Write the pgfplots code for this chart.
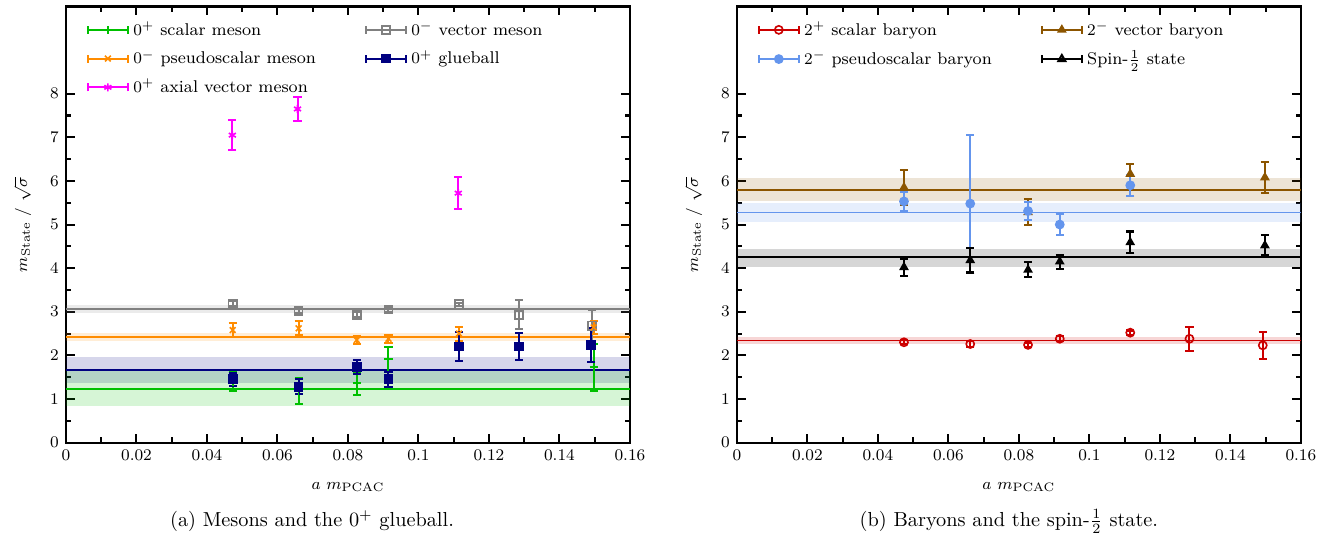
\documentclass[border=0pt]{standalone}
\usepackage{pgfplots}
\usepackage{pgfplotstable}
\pgfplotsset{compat=1.18}

\definecolor{cgreen}{RGB}{0,192,0}
\definecolor{corange}{RGB}{255,140,0}
\definecolor{cmag}{RGB}{255,0,255}
\definecolor{cgray}{RGB}{128,128,128}
\definecolor{cnavy}{RGB}{0,0,128}
\definecolor{cred}{RGB}{204,0,0}
\definecolor{cblue}{RGB}{100,149,237}
\definecolor{cbrown}{RGB}{140,85,0}

% x, y, error
\pgfplotstableread{
x y e
0.0473 1.40 0.21
0.0660 1.18 0.29
0.0825 1.36 0.26
0.0915 1.91 0.29
0.1497 1.73 0.54
}\scalarmeson
\pgfplotstableread{
x y e
0.0473 3.19 0.05
0.0660 3.02 0.04
0.0825 2.93 0.06
0.0915 3.05 0.05
0.1115 3.17 0.04
0.1285 2.93 0.33
0.1492 2.68 0.37
}\vectormeson
\pgfplotstableread{
x y e
0.0473 2.58 0.17
0.0660 2.62 0.16
0.0825 2.35 0.10
0.0915 2.38 0.09
0.1115 2.50 0.16
0.1497 2.64 0.14
}\pseudomeson
\pgfplotstableread{
x y e
0.0473 1.45 0.15
0.0660 1.28 0.17
0.0825 1.73 0.16
0.0915 1.45 0.17
0.1115 2.20 0.33
0.1285 2.20 0.31
0.1490 2.23 0.39
}\glueball
\pgfplotstableread{
x y e
0.0472 7.05 0.35
0.0657 7.65 0.27
0.1113 5.72 0.36
}\axialmeson

\pgfplotstableread{
x y e
0.0474 2.30 0.05
0.0662 2.26 0.06
0.0826 2.24 0.05
0.0916 2.38 0.06
0.1116 2.52 0.05
0.1284 2.38 0.27
0.1492 2.23 0.31
}\scalarbaryon
\pgfplotstableread{
x y e
0.0474 5.85 0.40
0.0826 5.28 0.30
0.1116 6.16 0.22
0.1498 6.08 0.35
}\vectorbaryon
\pgfplotstableread{
x y e
0.0474 5.53 0.22
0.0662 5.48 1.58
0.0826 5.31 0.20
0.0916 5.00 0.25
0.1116 5.90 0.24
}\pseudobaryon
\pgfplotstableread{
x y e
0.0474 4.02 0.19
0.0662 4.18 0.28
0.0826 3.96 0.17
0.0916 4.15 0.16
0.1116 4.59 0.25
0.1498 4.52 0.23
}\spinhalf

\pgfplotsset{
  panel/.style={
    scale only axis, width=277.8pt, height=214.8pt,
    xmin=0, xmax=0.16, ymin=0, ymax=10,
    xtick={0,0.02,0.04,0.06,0.08,0.1,0.12,0.14,0.16},
    minor xtick={0.01,0.03,0.05,0.07,0.09,0.11,0.13,0.15},
    ytick={0,1,2,3,4,5,6,7,8},
    minor ytick={0.5,1.5,2.5,3.5,4.5,5.5,6.5,7.5},
    tick align=inside,
    major tick length=4.4pt, minor tick length=2.5pt,
    axis line style={line width=1pt},
    every tick/.style={line width=1pt, black},
    tick label style={font=\footnotesize},
    scaled x ticks=false,
    xticklabel style={/pgf/number format/fixed, /pgf/number format/precision=2},
    label style={font=\footnotesize},
    xlabel={$a\ m_{\mathrm{PCAC}}$},
    ylabel={$m_{\mathrm{State}}\ /\ \sqrt{\sigma}$},
    xlabel style={at={(axis description cs:0.5,-0.102)}, anchor=center},
    ylabel style={at={(axis description cs:-0.077,0.5)}, anchor=center},
    legend columns=2,
    legend cell align=left,
    legend style={draw=none, fill=none, font=\fontsize{8.4}{10}\selectfont,
      at={(axis description cs:0.025,0.985)}, anchor=north west,
      /tikz/every even column/.append style={column sep=22pt},
      row sep=2pt},
  },
  pts/.style={only marks, color=#1, line width=1pt, mark size=2pt,
    mark options={solid, line width=0.8pt},
    error bars/.cd, y dir=both, y explicit,
    error bar style={line width=1pt},
    error mark options={rotate=90, mark size=2pt, line width=1pt},
    /pgfplots/.cd,
    legend image code/.code={
      \draw[##1, mark=none] (0cm,0cm) -- (20pt,0cm);
      \draw[##1, mark=none] (0cm,-2pt) -- (0cm,2pt) (20pt,-2pt) -- (20pt,2pt);
      \draw[##1, only marks] plot coordinates {(10pt,0cm)};
    }},
  hollowleg/.style={
    legend image code/.code={
      \draw[##1, mark=none] (0cm,0cm) -- (20pt,0cm);
      \draw[##1, mark=none] (0cm,-2pt) -- (0cm,2pt) (20pt,-2pt) -- (20pt,2pt);
      \draw[##1, only marks, mark=triangle, mark options={fill=white}] plot coordinates {(10pt,0cm)};
    }},
  band/.style={draw=none, fill=#1, fill opacity=0.16, forget plot},
  fit/.style={color=#1, line width=0.8pt, forget plot},
}

\begin{document}
\begin{tikzpicture}
\begin{axis}[panel, at={(0pt,0pt)}, anchor=south west]
% fit bands
\addplot[band=cgray] coordinates {(0,2.96)(0.16,2.96)(0.16,3.16)(0,3.16)} -- cycle;
\addplot[band=corange] coordinates {(0,2.34)(0.16,2.34)(0.16,2.51)(0,2.51)} -- cycle;
\addplot[band=cnavy] coordinates {(0,1.37)(0.16,1.37)(0.16,1.96)(0,1.96)} -- cycle;
\addplot[band=cgreen] coordinates {(0,0.83)(0.16,0.83)(0.16,1.63)(0,1.63)} -- cycle;
% fit lines
\addplot[fit=cgray] coordinates {(0,3.06)(0.16,3.06)};
\addplot[fit=corange] coordinates {(0,2.42)(0.16,2.42)};
\addplot[fit=cnavy] coordinates {(0,1.66)(0.16,1.66)};
\addplot[fit=cgreen] coordinates {(0,1.23)(0.16,1.23)};
% data
\addplot[pts=cgreen, mark=+] table[x=x, y=y, y error=e] {\scalarmeson};
\addlegendentry{$0^{+}$ scalar meson}
\addplot[pts=cgray, mark=square] table[x=x, y=y, y error=e] {\vectormeson};
\addlegendentry{$0^{-}$ vector meson}
\addplot[pts=corange, mark=x] table[x=x, y=y, y error=e] {\pseudomeson};
\addlegendentry{$0^{-}$ pseudoscalar meson}
\addplot[pts=cnavy, mark=square*] table[x=x, y=y, y error=e] {\glueball};
\addlegendentry{$0^{+}$ glueball}
\addplot[pts=cmag, mark=asterisk] table[x=x, y=y, y error=e] {\axialmeson};
\addlegendentry{$0^{+}$ axial vector meson}
\end{axis}

\begin{axis}[panel, at={(330.5pt,0pt)}, anchor=south west]
\addplot[band=cbrown] coordinates {(0,5.54)(0.16,5.54)(0.16,6.07)(0,6.07)} -- cycle;
\addplot[band=cblue] coordinates {(0,5.05)(0.16,5.05)(0.16,5.50)(0,5.50)} -- cycle;
\addplot[band=black] coordinates {(0,4.03)(0.16,4.03)(0.16,4.45)(0,4.45)} -- cycle;
\addplot[band=cred] coordinates {(0,2.25)(0.16,2.25)(0.16,2.43)(0,2.43)} -- cycle;
\addplot[fit=cbrown] coordinates {(0,5.79)(0.16,5.79)};
\addplot[fit=cblue] coordinates {(0,5.28)(0.16,5.28)};
\addplot[fit=black] coordinates {(0,4.25)(0.16,4.25)};
\addplot[fit=cred] coordinates {(0,2.34)(0.16,2.34)};
\addplot[pts=cred, mark=o] table[x=x, y=y, y error=e] {\scalarbaryon};
\addlegendentry{$2^{+}$ scalar baryon}
\addplot[pts=cbrown, mark=triangle*] table[x=x, y=y, y error=e] {\vectorbaryon};
\addlegendentry{$2^{-}$ vector baryon}
\addplot[pts=cblue, mark=*] table[x=x, y=y, y error=e] {\pseudobaryon};
\addlegendentry{$2^{-}$ pseudoscalar baryon}
\addplot[pts=black, mark=triangle*, hollowleg] table[x=x, y=y, y error=e] {\spinhalf};
\addlegendentry{Spin-$\frac{1}{2}$ state}
\end{axis}

\node[anchor=center] at (121.2pt,-38.7pt) {(a) Mesons and the $0^{+}$ glueball.};
\node[anchor=center] at (464.5pt,-38.7pt) {(b) Baryons and the spin-$\frac{1}{2}$ state.};

\pgfresetboundingbox
\path[use as bounding box] (-32.5pt,-48pt) rectangle (626.6pt,218pt);
\end{tikzpicture}
\end{document}
